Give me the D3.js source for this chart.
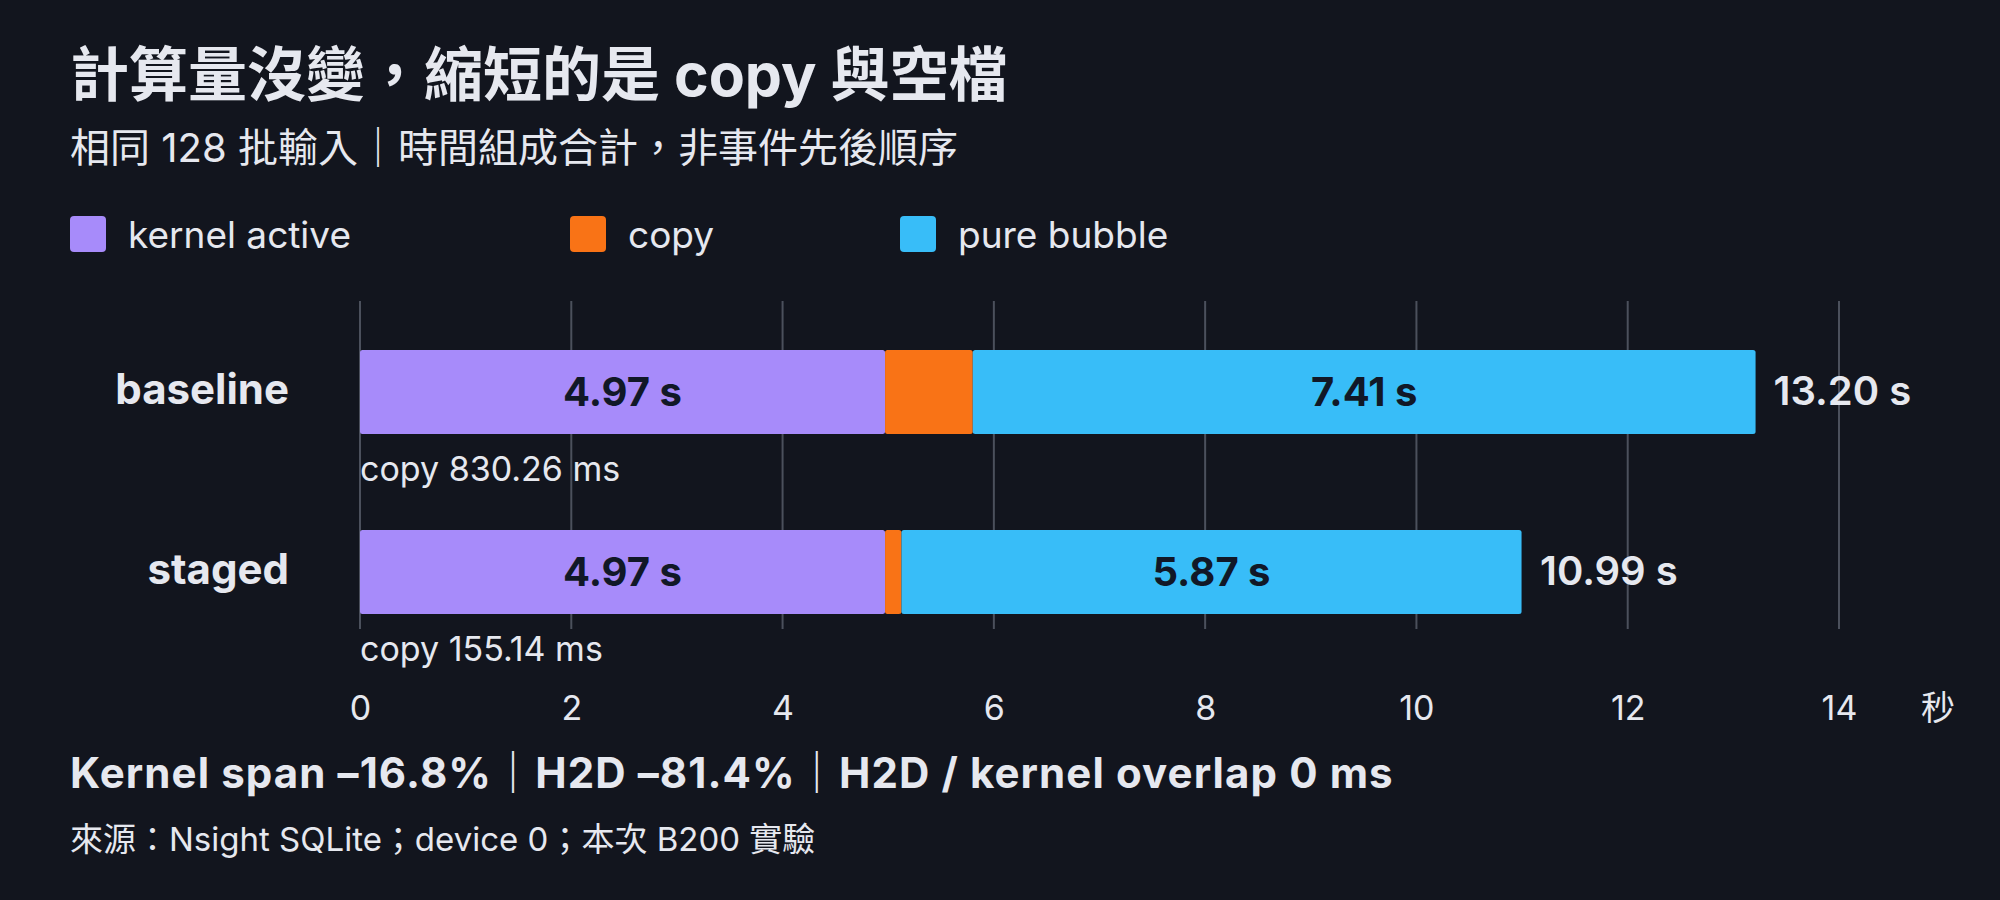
<!DOCTYPE html>
<html>
<head>
<meta charset="utf-8">
<script src="https://cdn.jsdelivr.net/npm/d3@7"></script>
<style>
  html, body { margin: 0; padding: 0; background: #12151e; }
  svg { display: block; }
  text { font-family: "Inter", "Noto Sans CJK TC", sans-serif; }
</style>
</head>
<body>
<div id="chart"></div>
<script>
// data (seconds)
const categories = ['baseline', 'staged'];
const kernelActive = [4.97, 4.97];
const copyTime = [0.83026, 0.15514];
const pureBubble = [7.41, 5.87];
const totals = [13.20, 10.99];
const copyLabels = ['copy 830.26 ms', 'copy 155.14 ms'];
const tickValues = [0, 2, 4, 6, 8, 10, 12, 14];
const seriesNames = ['kernel active', 'copy', 'pure bubble'];
const seriesKeys = ['kernel', 'copy', 'bubble'];

const W = 2000, H = 900;
const bg = '#12151e';
const ink = '#e6e8ef';
const colors = { kernel: '#a78bfa', copy: '#f97316', bubble: '#38bdf8' };

const svg = d3.select('#chart').append('svg')
  .attr('width', W)
  .attr('height', H);

svg.append('rect').attr('width', W).attr('height', H).attr('fill', bg);

// title + subtitle
svg.append('text')
  .attr('x', 70).attr('y', 96)
  .attr('fill', ink)
  .attr('font-size', 59).attr('font-weight', 700)
  .text('計算量沒變，縮短的是 copy 與空檔');

svg.append('text')
  .attr('x', 70).attr('y', 162)
  .attr('fill', ink)
  .attr('font-size', 40)
  .text('相同 128 批輸入｜時間組成合計，非事件先後順序');

// legend
const legendX = [70, 570, 900];
const legend = svg.append('g');
seriesKeys.forEach((k, i) => {
  const g = legend.append('g').attr('transform', `translate(${legendX[i]}, 216)`);
  g.append('rect')
    .attr('width', 36).attr('height', 36).attr('rx', 4)
    .attr('fill', colors[k]);
  g.append('text')
    .attr('x', 58).attr('y', 32)
    .attr('fill', ink)
    .attr('font-size', 37)
    .text(seriesNames[i]);
});

// scales
const x = d3.scaleLinear().domain([0, 14]).range([360, 1839]);
const y = d3.scaleBand()
  .domain(categories)
  .range([350, 614])
  .paddingInner(0.5333)
  .paddingOuter(0);

// grid
svg.append('g')
  .selectAll('line')
  .data(tickValues)
  .join('line')
    .attr('x1', (d) => x(d)).attr('x2', (d) => x(d))
    .attr('y1', 301).attr('y2', 629)
    .attr('stroke', '#4b505c')
    .attr('stroke-width', 2);

// stacked bars
const rows = categories.map((c, i) => ({
  cat: c, kernel: kernelActive[i], copy: copyTime[i], bubble: pureBubble[i]
}));
const stacked = d3.stack().keys(seriesKeys)(rows);

const bars = svg.append('g');
stacked.forEach((layer) => {
  bars.append('g')
    .attr('fill', colors[layer.key])
    .selectAll('rect')
    .data(layer)
    .join('rect')
      .attr('x', (d) => x(d[0]))
      .attr('y', (d) => y(d.data.cat))
      .attr('width', (d) => x(d[1]) - x(d[0]))
      .attr('height', y.bandwidth())
      .attr('rx', 2.5);
});

// labels inside kernel and bubble segments
stacked.filter((l) => l.key !== 'copy').forEach((layer) => {
  bars.append('g')
    .selectAll('text')
    .data(layer)
    .join('text')
      .attr('x', (d) => (x(d[0]) + x(d[1])) / 2)
      .attr('y', (d) => y(d.data.cat) + y.bandwidth() / 2 + 14)
      .attr('text-anchor', 'middle')
      .attr('fill', '#111827')
      .attr('font-size', 40).attr('font-weight', 700)
      .text((d) => (d[1] - d[0]).toFixed(2) + ' s');
});

// totals
svg.append('g')
  .selectAll('text')
  .data(categories)
  .join('text')
    .attr('x', (d, i) => x(totals[i]) + 19)
    .attr('y', (d) => y(d) + y.bandwidth() / 2 + 13)
    .attr('fill', ink)
    .attr('font-size', 40).attr('font-weight', 600)
    .text((d, i) => totals[i].toFixed(2) + ' s');

// category labels
svg.append('g')
  .selectAll('text')
  .data(categories)
  .join('text')
    .attr('x', 289)
    .attr('y', (d) => y(d) + y.bandwidth() / 2 + 12)
    .attr('text-anchor', 'end')
    .attr('fill', ink)
    .attr('font-size', 42).attr('font-weight', 700)
    .text((d) => d);

// copy annotations under each bar
svg.append('g')
  .selectAll('text')
  .data(categories)
  .join('text')
    .attr('x', x(0))
    .attr('y', (d) => y(d) + y.bandwidth() + 47)
    .attr('fill', ink)
    .attr('font-size', 34)
    .text((d, i) => copyLabels[i]);

// x axis
const axis = svg.append('g')
  .attr('transform', 'translate(0, 629)')
  .call(d3.axisBottom(x).tickValues(tickValues).tickSize(0).tickPadding(91));
axis.select('.domain').remove();
axis.selectAll('text')
  .attr('fill', ink)
  .attr('font-size', 34)
  .attr('font-family', '"Inter", "Noto Sans CJK TC", sans-serif')
  .attr('dy', 0);

svg.append('text')
  .attr('x', 1938).attr('y', 720)
  .attr('text-anchor', 'middle')
  .attr('fill', ink)
  .attr('font-size', 34)
  .text('秒');

// footer
svg.append('text')
  .attr('x', 70).attr('y', 788)
  .attr('fill', ink)
  .attr('font-size', 42).attr('font-weight', 700)
  .attr('letter-spacing', 1.1)
  .text('Kernel span –16.8%｜H2D –81.4%｜H2D / kernel overlap 0 ms');

svg.append('text')
  .attr('x', 70).attr('y', 851)
  .attr('fill', ink)
  .attr('font-size', 33)
  .text('來源：Nsight SQLite；device 0；本次 B200 實驗');
</script>
</body>
</html>
